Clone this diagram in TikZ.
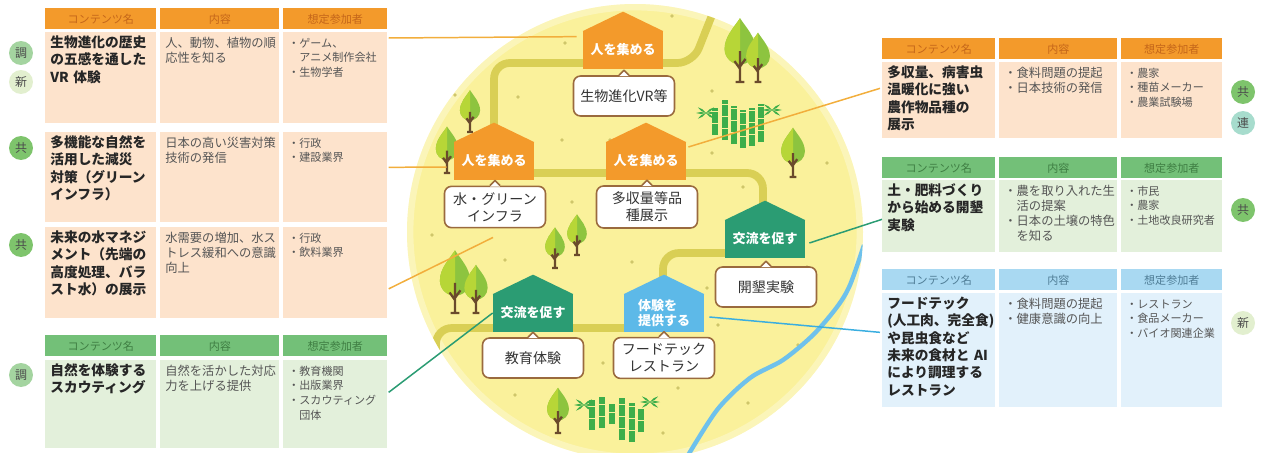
\documentclass[tikz,border=0pt]{standalone}
\usepackage{fontspec}
\setmainfont{Noto Sans CJK JP}
\usetikzlibrary{positioning,calc}

\definecolor{hdorange}{HTML}{F39A2B}
\definecolor{bdorange}{HTML}{FDE3CC}
\definecolor{txorange}{HTML}{C4661A}
\definecolor{hdgreen}{HTML}{73C078}
\definecolor{bdgreen}{HTML}{E3F0DB}
\definecolor{txgreen}{HTML}{3F7E43}
\definecolor{hdblue}{HTML}{A9D9F2}
\definecolor{bdblue}{HTML}{E2F1FB}
\definecolor{txblue}{HTML}{4F7D96}
\definecolor{txtgray}{HTML}{555555}
\definecolor{field}{HTML}{FAF19B}
\definecolor{roadc}{HTML}{D9CF55}
\definecolor{dotc}{HTML}{CFC66A}
\definecolor{houseor}{HTML}{F39A2B}
\definecolor{housegr}{HTML}{2B9C73}
\definecolor{housebl}{HTML}{5DB9E8}
\definecolor{calloutc}{HTML}{9A6A3E}
\definecolor{riverc}{HTML}{6EC1EC}
\definecolor{linkor}{HTML}{F2AE3C}
\definecolor{linkbl}{HTML}{3AAEE0}
\definecolor{leafa}{HTML}{B7D637}
\definecolor{leafb}{HTML}{8DC43F}
\definecolor{trunkc}{HTML}{6A4A2C}
\definecolor{bambooc}{HTML}{3DAE4A}
\definecolor{bgchou}{HTML}{A4D4A0}
\definecolor{bgshin}{HTML}{E2EFCF}
\definecolor{bgkyo}{HTML}{7EC46C}
\definecolor{bgren}{HTML}{A7DCCD}

\tikzset{
  hdr/.style 2 args={fill=#1, text=#2, anchor=north west, inner xsep=0.1cm, inner ysep=0pt,
    minimum height=0.42cm, align=center, font=\fontsize{6.3}{7}\selectfont},
  cell/.style={fill=#1, anchor=north west, inner xsep=0.1cm, inner ysep=0.08cm, align=left, text height=0.22cm},
  cname/.style={text=black!85, font=\bfseries\fontsize{7.8}{9.9}\selectfont},
  ctext/.style={text=txtgray, font=\fontsize{7}{8.5}\selectfont},
  cwho/.style={text=txtgray, font=\fontsize{6.3}{8.3}\selectfont},
  lA/.style={text width=2.02cm}, lB/.style={text width=2.18cm}, lC/.style={text width=1.88cm},
  rA/.style={text width=2.06cm}, rB/.style={text width=2.16cm}, rC/.style={text width=1.82cm},
  badge/.style={circle, fill=#1, minimum size=0.48cm, inner sep=0pt, text=black!70,
    font=\fontsize{6.8}{7}\selectfont},
  house/.style={fill=#1, minimum width=1.6cm, minimum height=0.76cm, inner sep=1pt, text=white,
    align=left, font=\bfseries\fontsize{7.4}{9}\selectfont},
  callout/.style={draw=calloutc, line width=0.9pt, fill=white, rounded corners=4pt,
    minimum width=2.02cm, minimum height=0.8cm, align=center, text=black!80,
    font=\fontsize{8}{9.8}\selectfont},
  road/.style={roadc, line width=4.4pt, rounded corners=9pt},
  link/.style={#1, line width=0.85pt},
  stalk/.style={bambooc, line width=3pt, dash pattern=on 6pt off 0.9pt},
  tree/.pic={
    \fill[leafb] (0,-58) .. controls (6,-49) and (14,-41) .. (14,-30) arc (0:180:14)
      .. controls (-14,-41) and (-6,-49) .. (0,-58) -- cycle;
    \fill[leafa] (0,-58) -- (0,-16) arc (90:180:14) .. controls (-14,-41) and (-6,-49) .. (0,-58) -- cycle;
    \draw[trunkc, line width=1.3pt] (0,0) -- (0,-28) (0,-12) -- (-5,-19) (0,-14) -- (5,-21) (-4,0) -- (4,0);
  },
  tuft/.pic={
    \foreach \a in {0,35,145,180,215,325}
      \fill[bambooc] (0,0) -- (\a+12:5) -- (\a:10) -- (\a-12:5) -- cycle;
  }
}

\begin{document}
\begin{tikzpicture}[x=0.02cm, y=-0.02cm]
\useasboundingbox (0,0) rectangle (1262,453);

% field, dots, roads and river
\fill[field] (635,232) circle (228);
\begin{scope}
  \clip (635,232) circle (228);
  \draw[white, opacity=0.3, line width=5pt] (635,232) circle (226);
  \foreach \p in {(672,16),(565,43),(518,97),(712,91),(562,140),(712,153),(827,163),(572,202),
                  (743,187),(432,235),(505,260),(632,262),(718,325),(707,288),(798,345),(603,363),
                  (515,395),(678,388),(748,403),(663,433),(807,267),(455,95),(610,140)}
    \fill[dotc] \p circle (1.8);
  \draw[road] (718,0) -- (693,63) -- (494,63) -- (494,140);
  \draw[road] (494,173) -- (763,173) -- (763,215);
  \draw[road] (740,253) -- (663,253) -- (663,290);
  \draw[road] (436,380) -- (436,328) -- (665,328);
  \draw[riverc, line width=2.5pt] plot[smooth] coordinates
    {(684,462) (717,410) (750,378) (783,360) (813,335) (837,307) (850,285) (864,245)};
\end{scope}

% trees and bamboo
\pic[scale=1.1]  at (740,82)  {tree};
\pic[scale=0.85] at (758,82)  {tree};
\pic[scale=0.72] at (470,132) {tree};
\pic[scale=0.8]  at (447,173) {tree};
\pic[scale=0.85] at (793,177) {tree};
\pic[scale=0.7]  at (555,268) {tree};
\pic[scale=0.7]  at (577,255) {tree};
\pic[scale=1.08] at (455,313) {tree};
\pic[scale=0.83] at (476,313) {tree};
\pic[scale=0.78] at (558,433) {tree};

\foreach \bx/\bt/\bb in {715/108/135, 725/100/140, 734/106/144, 743/110/148, 752/108/146, 761/104/142,
                         592/400/430, 602/397/428, 612/404/424, 622/398/440, 632/403/442, 641/408/432}
  \draw[stalk] (\bx,\bb) -- (\bx,\bt);
\pic at (706,113) {tuft};
\pic at (772,110) {tuft};
\pic at (584,405) {tuft};
\pic at (650,402) {tuft};

% houses
\node[house=houseor] (h1) at (623,50)  {人を集める};
\node[house=houseor] (h2) at (494,161) {人を集める};
\node[house=houseor] (h3) at (646,161) {人を集める};
\node[house=housegr] (h4) at (765,239) {交流を促す};
\node[house=housegr] (h5) at (533,313) {交流を促す};
\node[house=housebl] (h6) at (664,313) {体験を\\提供する};
\foreach \h/\c in {h1/houseor, h2/houseor, h3/houseor, h4/housegr, h5/housegr, h6/housebl}
  \fill[\c] ($(\h.north west)+(0,0.5)$) -- ($(\h.north)+(0,-19)$) -- ($(\h.north east)+(0,0.5)$) -- cycle;

% callouts under the houses
\node[callout] (c1) at (624,96)  {生物進化VR等};
\node[callout] (c2) at (495,207) {水・グリーン\\インフラ};
\node[callout] (c3) at (647,207) {多収量等品\\種展示};
\node[callout] (c4) at (766,287) {開墾実験};
\node[callout] (c5) at (533,358) {教育体験};
\node[callout] (c6) at (664,358) {フードテック\\レストラン};
\foreach \c in {c1,c2,c3,c4,c5,c6} {
  \fill[white] ($(\c.north)+(-5,1)$) -- ($(\c.north)+(0,-5)$) -- ($(\c.north)+(5,1)$) -- cycle;
  \draw[calloutc, line width=0.9pt, line join=round] ($(\c.north)+(-5,0)$) -- ($(\c.north)+(0,-5)$) -- ($(\c.north)+(5,0)$);
}

% left tables
\node[hdr={hdorange}{txorange}, lA] (t1hA) at (45,8)  {コンテンツ名};
\node[hdr={hdorange}{txorange}, lB] (t1hB) at (160,8) {内容};
\node[hdr={hdorange}{txorange}, lC] (t1hC) at (283,8) {想定参加者};
\node[cell=bdorange, cname, lA, text depth=1.44cm] (t1n) at (45,32)  {生物進化の歴史\\の五感を通した\\VR 体験};
\node[cell=bdorange, ctext, lB, text depth=1.44cm] (t1i) at (160,32) {人、動物、植物の順\\応性を知る};
\node[cell=bdorange, cwho, lC, text depth=1.44cm]  (t1w) at (283,32) {・ゲーム、\\　アニメ制作会社\\・生物学者};

\node[cell=bdorange, cname, lA, text depth=1.42cm] (t2n) at (45,132)  {多機能な自然を\\活用した減災\\対策（グリーン\\インフラ）};
\node[cell=bdorange, ctext, lB, text depth=1.42cm] (t2i) at (160,132) {日本の高い災害対策\\技術の発信};
\node[cell=bdorange, cwho, lC, text depth=1.42cm]  (t2w) at (283,132) {・行政\\・建設業界};

\node[cell=bdorange, cname, lA, text depth=1.44cm] (t3n) at (45,227)  {未来の水マネジ\\メント（先端の\\高度処理、バラ\\スト水）の展示};
\node[cell=bdorange, ctext, lB, text depth=1.44cm] (t3i) at (160,227) {水需要の増加、水ス\\トレス緩和への意識\\向上};
\node[cell=bdorange, cwho, lC, text depth=1.44cm]  (t3w) at (283,227) {・行政\\・飲料業界};

\node[hdr={hdgreen}{txgreen}, lA] (t4hA) at (45,335)  {コンテンツ名};
\node[hdr={hdgreen}{txgreen}, lB] (t4hB) at (160,335) {内容};
\node[hdr={hdgreen}{txgreen}, lC] (t4hC) at (283,335) {想定参加者};
\node[cell=bdgreen, cname, lA, text depth=1.38cm] (t4n) at (45,360)  {自然を体験する\\スカウティング};
\node[cell=bdgreen, ctext, lB, text depth=1.38cm] (t4i) at (160,360) {自然を活かした対応\\力を上げる提供};
\node[cell=bdgreen, cwho, lC, text depth=1.38cm]  (t4w) at (283,360) {・教育機関\\・出版業界\\・スカウティング\\　団体};

% right tables
\node[hdr={hdorange}{txorange}, rA] (r1hA) at (882,38)  {コンテンツ名};
\node[hdr={hdorange}{txorange}, rB] (r1hB) at (999,38)  {内容};
\node[hdr={hdorange}{txorange}, rC] (r1hC) at (1121,38) {想定参加者};
\node[cell=bdorange, cname, rA, text depth=1.14cm] (r1n) at (882,62)  {多収量、病害虫\\温暖化に強い\\農作物品種の\\展示};
\node[cell=bdorange, ctext, rB, text depth=1.14cm] (r1i) at (999,62)  {・食料問題の提起\\・日本技術の発信};
\node[cell=bdorange, cwho, rC, text depth=1.14cm]  (r1w) at (1121,62) {・農家\\・種苗メーカー\\・農業試験場};

\node[hdr={hdgreen}{txgreen}, rA] (r2hA) at (882,157)  {コンテンツ名};
\node[hdr={hdgreen}{txgreen}, rB] (r2hB) at (999,157)  {内容};
\node[hdr={hdgreen}{txgreen}, rC] (r2hC) at (1121,157) {想定参加者};
\node[cell=bdgreen, cname, rA, text depth=1.06cm] (r2n) at (882,180)  {土・肥料づくり\\から始める開墾\\実験};
\node[cell=bdgreen, ctext, rB, text depth=1.06cm] (r2i) at (999,180)  {・農を取り入れた生\\　活の提案\\・日本の土壌の特色\\　を知る};
\node[cell=bdgreen, cwho, rC, text depth=1.06cm]  (r2w) at (1121,180) {・市民\\・農家\\・土地改良研究者};

\node[hdr={hdblue}{txblue}, rA] (r3hA) at (882,269)  {コンテンツ名};
\node[hdr={hdblue}{txblue}, rB] (r3hB) at (999,269)  {内容};
\node[hdr={hdblue}{txblue}, rC] (r3hC) at (1121,269) {想定参加者};
\node[cell=bdblue, cname, rA, text depth=1.90cm] (r3n) at (882,293)  {フードテック\\(人工肉、完全食)\\や昆虫食など\\未来の食材と AI\\により調理する\\レストラン};
\node[cell=bdblue, ctext, rB, text depth=1.90cm] (r3i) at (999,293)  {・食料問題の提起\\・健康意識の向上};
\node[cell=bdblue, cwho, rC, text depth=1.90cm]  (r3w) at (1121,293) {・レストラン\\・食品メーカー\\・バイオ関連企業};

% badges
\node[badge=bgchou] (b1) at (21,53)  {調};
\node[badge=bgshin] (b2) at (21,82)  {新};
\node[badge=bgkyo]  (b3) at (21,148) {共};
\node[badge=bgkyo]  (b4) at (21,245) {共};
\node[badge=bgchou] (b5) at (21,375) {調};
\node[badge=bgkyo]  (b6) at (1243,92)  {共};
\node[badge=bgren]  (b7) at (1243,123) {連};
\node[badge=bgkyo]  (b8) at (1243,210) {共};
\node[badge=bgshin] (b9) at (1243,323) {新};

% connectors
\draw[link=linkor]  ($(t1w.north east)+(1,6)$) -- ($(h1.north west)+(-6,6)$);
\draw[link=linkor]  ($(t2w.east)+(1,-10)$) -- ($(h2.west)+(-7,6)$);
\draw[link=linkor]  ($(t3w.east)+(1,16)$) -- ($(c2.south)+(-2,9)$);
\draw[link=housegr] ($(t4w.east)+(1,-12)$) -- (h5.west);
\draw[link=linkor]  ($(h3.east)+(2,-14)$) -- ($(r1n.west)+(-2,-12)$);
\draw[link=housegr] ($(h4.east)+(4,4)$) -- ($(r2n.west)+(0,3)$);
\draw[link=linkbl]  ($(h6.east)+(5,4)$) -- ($(r3n.west)+(-2,-18)$);
\end{tikzpicture}
\end{document}
